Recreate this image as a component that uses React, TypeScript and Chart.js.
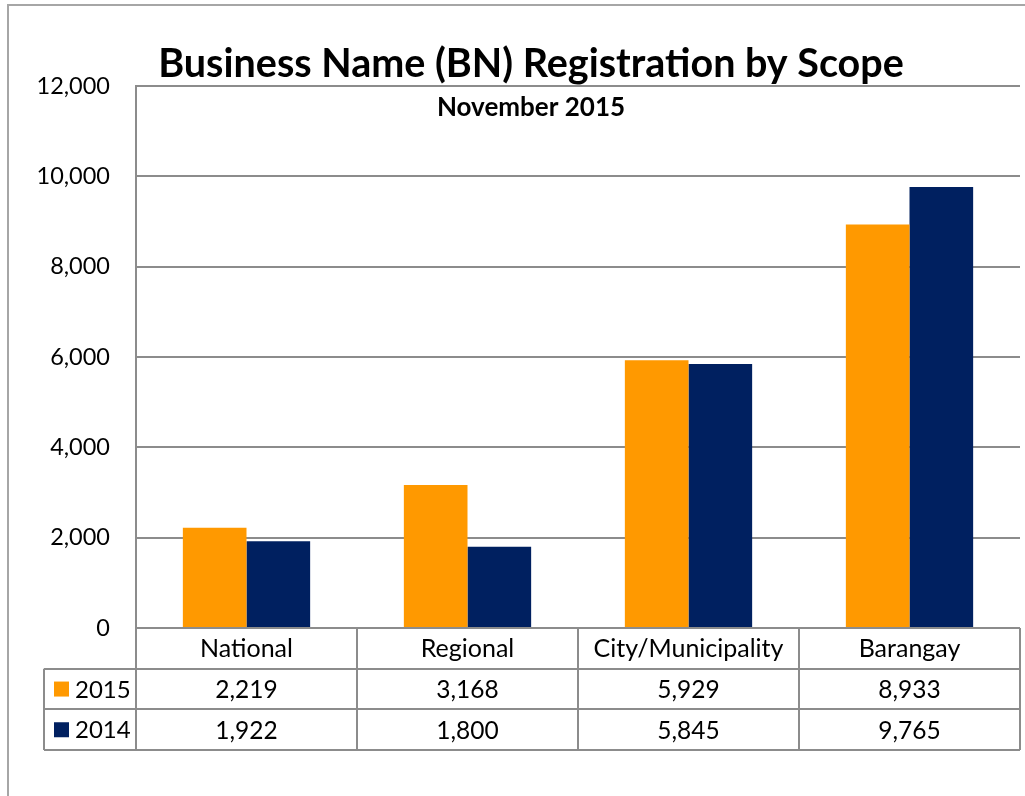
import React, { useEffect, useRef } from "react";
import { Chart, registerables } from "chart.js";

Chart.register(...registerables);

const categories = ["National", "Regional", "City/Municipality", "Barangay"];
const seriesNames = ["2015", "2014"];
const values2015 = [2219, 3168, 5929, 8933];
const values2014 = [1922, 1800, 5845, 9765];
const seriesColors = ["#FF9900", "#002060"];
const titleText = "Business Name (BN) Registration by Scope";
const subtitleText = "November 2015";
const yTicks = [0, 2000, 4000, 6000, 8000, 10000, 12000];

const FONT = "Lato, 'Open Sans', sans-serif";
const LINE = "#8c8c8c";

const fmt = (v: number) => v.toLocaleString("en-US");

const decorPlugin = {
  id: "decor",
  afterDraw(chart: any) {
    const ctx = chart.ctx as CanvasRenderingContext2D;
    const area = chart.chartArea;
    const xs = chart.scales.x;
    const n = categories.length;
    const colW = (area.right - area.left) / n;
    const rowH = 40.7;
    const top = area.bottom;
    const legendLeft = 44;

    ctx.save();
    // outer frame
    ctx.strokeStyle = "#a6a6a6";
    ctx.lineWidth = 2;
    ctx.beginPath();
    ctx.moveTo(8, 796);
    ctx.lineTo(8, 5);
    ctx.lineTo(1025, 5);
    ctx.stroke();

    // title
    ctx.fillStyle = "#000";
    ctx.textAlign = "center";
    ctx.textBaseline = "alphabetic";
    ctx.font = `bold 39.5px ${FONT}`;
    ctx.fillText(titleText, 531, 77);
    ctx.font = `bold 26px ${FONT}`;
    ctx.fillText(subtitleText, 531, 116);

    // table lines
    ctx.strokeStyle = LINE;
    ctx.lineWidth = 2;
    ctx.beginPath();
    for (let i = 0; i <= n; i++) {
      const x = Math.round(area.left + i * colW);
      ctx.moveTo(x, top);
      ctx.lineTo(x, top + rowH * 3);
    }
    ctx.moveTo(legendLeft, top + rowH);
    ctx.lineTo(legendLeft, top + rowH * 3);
    ctx.moveTo(area.left, top);
    ctx.lineTo(area.right, top);
    for (let r = 1; r <= 3; r++) {
      const y = Math.round(top + rowH * r);
      ctx.moveTo(legendLeft, y);
      ctx.lineTo(area.right, y);
    }
    ctx.stroke();

    // texts
    ctx.fillStyle = "#000";
    ctx.textBaseline = "middle";
    ctx.textAlign = "center";
    const rows = [values2015, values2014];
    for (let i = 0; i < n; i++) {
      const cx = xs.getPixelForValue(i);
      ctx.font = `25px ${FONT}`;
      ctx.fillText(categories[i], cx, top + rowH * 0.5 + 1);
      ctx.font = `24.5px ${FONT}`;
      for (let r = 0; r < rows.length; r++) {
        ctx.fillText(fmt(rows[r][i]), cx, top + rowH * (r + 1.5) + 1);
      }
    }
    // legend keys
    ctx.textAlign = "left";
    ctx.font = `24px ${FONT}`;
    for (let r = 0; r < seriesNames.length; r++) {
      const cy = top + rowH * (r + 1.5);
      ctx.fillStyle = seriesColors[r];
      ctx.fillRect(54, cy - 7.5, 15, 15);
      ctx.fillStyle = "#000";
      ctx.fillText(seriesNames[r], 75, cy + 1);
    }
    ctx.restore();
  },
};

export default function App() {
  const ref = useRef<HTMLCanvasElement>(null);
  useEffect(() => {
    if (!ref.current) return;
    const chart = new Chart(ref.current, {
      type: "bar",
      data: {
        labels: categories,
        datasets: [
          { label: seriesNames[0], data: values2015, backgroundColor: seriesColors[0] },
          { label: seriesNames[1], data: values2014, backgroundColor: seriesColors[1] },
        ],
      },
      options: {
        responsive: false,
        animation: false,
        devicePixelRatio: 1,
        layout: { padding: { left: 0, top: 86, right: 5, bottom: 168 } },
        datasets: { bar: { categoryPercentage: 0.576, barPercentage: 1 } },
        plugins: { legend: { display: false }, title: { display: false }, tooltip: { enabled: false } },
        scales: {
          x: {
            display: false,
            grid: { display: false },
          },
          y: {
            min: 0,
            max: 12000,
            afterBuildTicks: (s: any) => {
              s.ticks = yTicks.map((v) => ({ value: v }));
            },
            afterFit: (s: any) => {
              s.width = 136;
            },
            ticks: {
              callback: (v: any) => fmt(Number(v)),
              color: "#000",
              font: { family: FONT, size: 23.5 },
              padding: 26,
            },
            grid: { color: LINE, lineWidth: 2, drawTicks: false },
            border: { display: true, color: LINE, width: 2 },
          },
        },
      },
      plugins: [decorPlugin],
    });
    return () => chart.destroy();
  }, []);
  return (
    <div style={{ position: "absolute", left: 0, top: 0, width: 1025, height: 796, background: "#fff" }}>
      <canvas ref={ref} width={1025} height={796} />
    </div>
  );
}
